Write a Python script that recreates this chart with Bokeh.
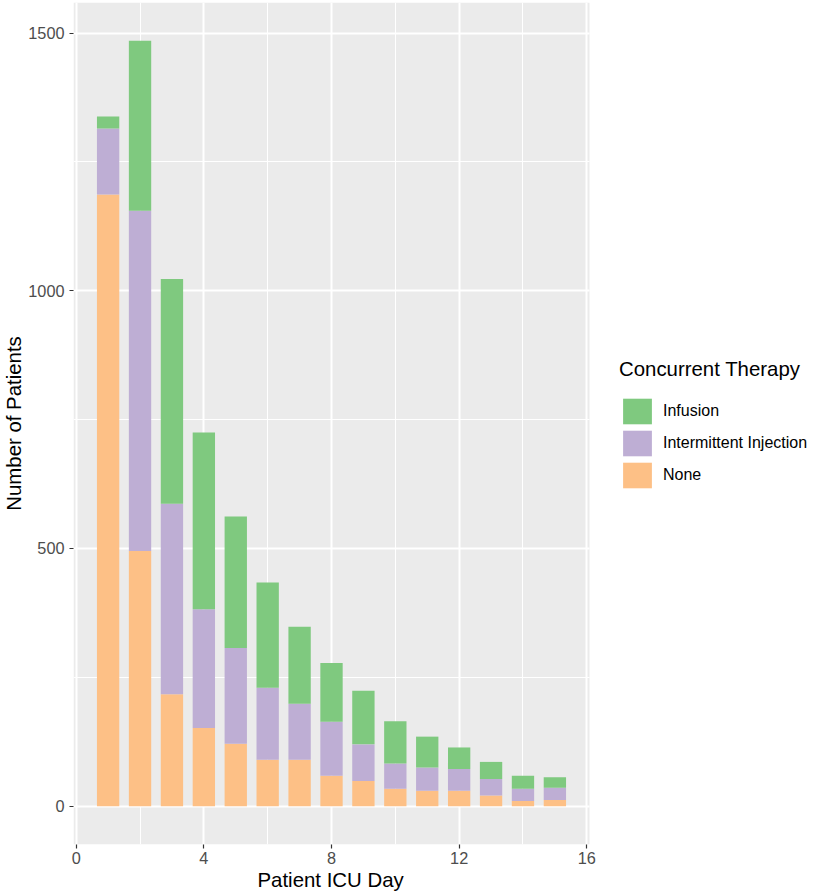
from bokeh.plotting import figure
from bokeh.models import (Range1d, Legend, LegendItem, FixedTicker, Title,
                          ColumnDataSource, BoxAnnotation)
from bokeh.embed import file_html
from bokeh.resources import INLINE

# ---- data ----
days = list(range(1, 16))
none_vals = [1187, 495, 217, 152, 121, 90, 90, 59, 49, 34, 30, 30, 21, 10, 12]
intermittent_vals = [128, 660, 370, 230, 186, 140, 109, 105, 71, 49, 45, 42, 32, 24, 24]
infusion_vals = [23, 330, 436, 343, 255, 204, 149, 114, 104, 82, 60, 42, 33, 25, 20]
series_names = ["None", "Intermittent Injection", "Infusion"]
series_colors = ["#FDC086", "#BEAED4", "#7FC97F"]
x_major_ticks = [0, 4, 8, 12, 16]
x_minor_ticks = [2, 6, 10, 14]
y_major_ticks = [0, 500, 1000, 1500]
y_minor_ticks = [250, 750, 1250]
x_title = "Patient ICU Day"
y_title = "Number of Patients"
legend_title = "Concurrent Therapy"

FONT = "Liberation Sans"
TICK_SIZE = "16.3px"
LEGEND_SIZE = "16px"
TITLE_SIZE = "20.4px"

source = ColumnDataSource(dict(day=days, **{
    series_names[0]: none_vals,
    series_names[1]: intermittent_vals,
    series_names[2]: infusion_vals,
}))

# panel (grey area) geometry in pixels and its data extent
W, H = 812, 895
PANEL_L, PANEL_R, PANEL_T, PANEL_B = 73, 589, 2, 844
X0, X1 = -0.085, 16.085
Y0, Y1 = -74.25, 1559.25
frame_w = W - PANEL_L
x_end = X0 + (X1 - X0) * frame_w / (PANEL_R - PANEL_L)

p = figure(width=W, height=H, output_backend="svg", toolbar_location=None,
           x_range=Range1d(X0, x_end), y_range=Range1d(Y0, Y1),
           min_border_left=PANEL_L, min_border_right=0, min_border_top=PANEL_T,
           min_border_bottom=H - PANEL_B)

p.background_fill_color = "white"
p.border_fill_color = "white"
p.outline_line_color = None

p.add_layout(BoxAnnotation(left=X0, right=X1, bottom=Y0, top=Y1,
                           fill_color="#EBEBEB", fill_alpha=1, line_color=None,
                           level="image"))

renderers = p.vbar_stack(series_names, x="day", width=0.7, source=source,
                         color=series_colors, line_color=None)

# axes
p.xaxis.ticker = FixedTicker(ticks=x_major_ticks, minor_ticks=x_minor_ticks)
p.yaxis.ticker = FixedTicker(ticks=y_major_ticks, minor_ticks=y_minor_ticks)
p.yaxis.axis_label = y_title
for ax in (p.xaxis[0], p.yaxis[0]):
    ax.axis_line_color = None
    ax.minor_tick_line_color = None
    ax.major_tick_line_color = "#333333"
    ax.major_tick_line_width = 1.2
    ax.major_tick_in = 0
    ax.major_tick_out = 4
    ax.major_label_text_font = FONT
    ax.major_label_text_font_size = TICK_SIZE
    ax.major_label_text_color = "#4D4D4D"
    ax.axis_label_text_font = FONT
    ax.axis_label_text_font_size = TITLE_SIZE
    ax.axis_label_text_font_style = "normal"
    ax.axis_label_text_color = "black"
p.xaxis.major_label_standoff = 3
p.yaxis.major_label_standoff = 5
p.yaxis.axis_label_standoff = 0

# x-axis title, centred under the panel (not the whole frame)
p.add_layout(Title(text=x_title, align="left", offset=257 - PANEL_L, standoff=0,
                   text_font=FONT, text_font_size=TITLE_SIZE,
                   text_font_style="normal", text_color="black"), "below")

# grids
for g in (p.xgrid[0], p.ygrid[0]):
    g.grid_line_color = "white"
    g.grid_line_width = 2
    g.minor_grid_line_color = "white"
    g.minor_grid_line_width = 1
p.ygrid[0].cross_bounds = (X0, X1)

# legend
items = [LegendItem(label=series_names[i], renderers=[renderers[i]]) for i in (2, 1, 0)]
legend = Legend(items=items, location=(619 - PANEL_L, PANEL_B - 491), title=legend_title,
                title_text_font=FONT, title_text_font_size=TITLE_SIZE,
                title_text_font_style="normal", title_text_color="black",
                title_standoff=14,
                label_text_font=FONT, label_text_font_size=LEGEND_SIZE,
                label_text_color="black", label_standoff=8,
                glyph_width=36, glyph_height=32, label_height=32, spacing=0,
                padding=0, margin=0, border_line_color=None,
                background_fill_alpha=0)
p.add_layout(legend)

open("out.html", "w").write(file_html(p, INLINE))
